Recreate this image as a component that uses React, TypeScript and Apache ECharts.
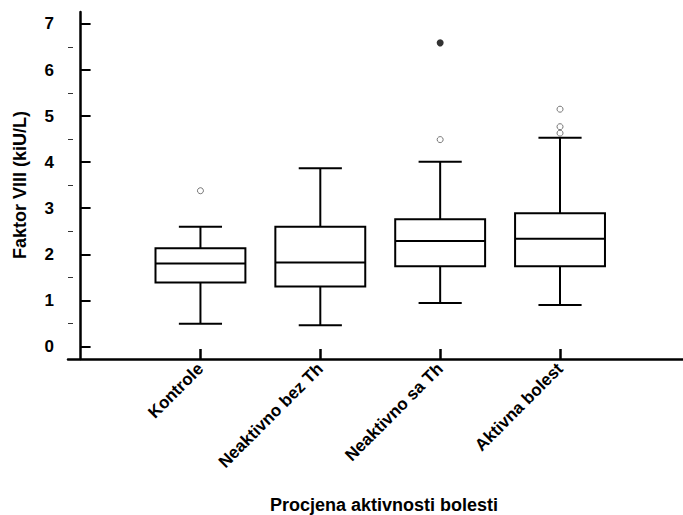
import React, { useEffect, useRef } from "react";
import * as echarts from "echarts";

const categories = ["Kontrole", "Neaktivno bez Th", "Neaktivno sa Th", "Aktivna bolest"];
// [min whisker, Q1, median, Q3, max whisker]
const boxStats = [
  [0.49, 1.39, 1.8, 2.13, 2.6],
  [0.46, 1.3, 1.82, 2.6, 3.87],
  [0.94, 1.74, 2.29, 2.76, 4.01],
  [0.9, 1.74, 2.34, 2.89, 4.53],
];
// [category index (0-based), value]
const openOutliers = [
  [0, 3.38],
  [2, 4.49],
  [3, 4.63],
  [3, 4.77],
  [3, 5.15],
];
const extremeOutliers = [[2, 6.59]];
const yTicks = [0, 1, 2, 3, 4, 5, 6, 7];
const yMinorTicks = [0.5, 1.5, 2.5, 3.5, 4.5, 5.5, 6.5];

const FONT = "'Liberation Sans', Arial, sans-serif";

export default function App() {
  const ref = useRef<HTMLDivElement>(null);
  useEffect(() => {
    if (!ref.current) return;
    const chart = echarts.init(ref.current, null, { renderer: "svg" });
    const catPos = categories.map((_, i) => i + 1);
    const boxData = boxStats.map((s, i) => [i + 1, ...s]);
    const yMin = -0.273;
    const yMax = 7.26;
    chart.setOption({
      animation: false,
      backgroundColor: "#fff",
      grid: { left: 68, top: 12, right: 0, bottom: 156 },
      xAxis: {
        type: "value",
        min: -0.105,
        max: 5.026,
        axisLine: { show: true, onZero: false, lineStyle: { color: "#000", width: 2.5 } },
        axisTick: {
          show: true,
          inside: true,
          length: 10,
          customValues: catPos,
          lineStyle: { color: "#000", width: 2.5 },
        },
        axisLabel: {
          customValues: catPos,
          rotate: 45,
          margin: 7,
          formatter: (v: number) => categories[Math.round(v) - 1] ?? "",
          fontFamily: FONT,
          fontWeight: "bold",
          fontSize: 17,
          color: "#000",
        },
        splitLine: { show: false },
      },
      yAxis: [
        {
          type: "value",
          min: yMin,
          max: yMax,
          axisLine: { show: true, lineStyle: { color: "#000", width: 2.5 } },
          axisTick: {
            show: true,
            inside: true,
            length: 10,
            customValues: yTicks,
            lineStyle: { color: "#000", width: 2 },
          },
          axisLabel: {
            customValues: yTicks,
            margin: 14,
            fontFamily: FONT,
            fontWeight: "bold",
            fontSize: 17,
            color: "#000",
          },
          splitLine: { show: false },
        },
        {
          type: "value",
          min: yMin,
          max: yMax,
          position: "left",
          axisLine: { show: false },
          axisTick: {
            show: true,
            inside: true,
            length: 5,
            customValues: yMinorTicks,
            lineStyle: { color: "#333", width: 1 },
          },
          axisLabel: { show: false },
          splitLine: { show: false },
        },
      ],
      graphic: [
        {
          type: "text",
          x: 20,
          y: 185,
          rotation: Math.PI / 2,
          style: {
            text: "Faktor VIII (kiU/L)",
            fontFamily: FONT,
            fontWeight: "bold",
            fontSize: 18,
            fill: "#000",
            align: "center",
            verticalAlign: "middle",
          },
        },
        {
          type: "text",
          x: 384,
          y: 505,
          style: {
            text: "Procjena aktivnosti bolesti",
            fontFamily: FONT,
            fontWeight: "bold",
            fontSize: 18,
            fill: "#000",
            align: "center",
            verticalAlign: "middle",
          },
        },
      ],
      series: [
        {
          type: "custom",
          data: boxData,
          xAxisIndex: 0,
          yAxisIndex: 0,
          renderItem: (params: any, api: any) => {
            const x = api.value(0);
            const pMin = api.coord([x, api.value(1)]);
            const pQ1 = api.coord([x, api.value(2)]);
            const pMed = api.coord([x, api.value(3)]);
            const pQ3 = api.coord([x, api.value(4)]);
            const pMax = api.coord([x, api.value(5)]);
            const boxW = api.size([0.75, 0])[0];
            const capW = api.size([0.36, 0])[0];
            const ls = { stroke: "#000", lineWidth: 2 };
            const cx = pMed[0];
            return {
              type: "group",
              children: [
                { type: "line", shape: { x1: cx, y1: pMax[1], x2: cx, y2: pQ3[1] }, style: ls },
                { type: "line", shape: { x1: cx, y1: pQ1[1], x2: cx, y2: pMin[1] }, style: ls },
                { type: "line", shape: { x1: cx - capW / 2, y1: pMax[1], x2: cx + capW / 2, y2: pMax[1] }, style: ls },
                { type: "line", shape: { x1: cx - capW / 2, y1: pMin[1], x2: cx + capW / 2, y2: pMin[1] }, style: ls },
                {
                  type: "rect",
                  shape: { x: cx - boxW / 2, y: pQ3[1], width: boxW, height: pQ1[1] - pQ3[1] },
                  style: { fill: "#fff", stroke: "#000", lineWidth: 2 },
                },
                { type: "line", shape: { x1: cx - boxW / 2, y1: pMed[1], x2: cx + boxW / 2, y2: pMed[1] }, style: ls },
              ],
            };
          },
        },
        {
          type: "scatter",
          data: openOutliers.map((o) => [o[0] + 1, o[1]]),
          symbol: "circle",
          symbolSize: 6,
          itemStyle: { color: "#fff", borderColor: "#555", borderWidth: 1 },
        },
        {
          type: "scatter",
          data: extremeOutliers.map((o) => [o[0] + 1, o[1]]),
          symbol: "circle",
          symbolSize: 7,
          itemStyle: { color: "#000" },
        },
      ],
    });
    return () => chart.dispose();
  }, []);
  return <div ref={ref} style={{ width: 683, height: 515, position: "absolute", left: 0, top: 0 }} />;
}
